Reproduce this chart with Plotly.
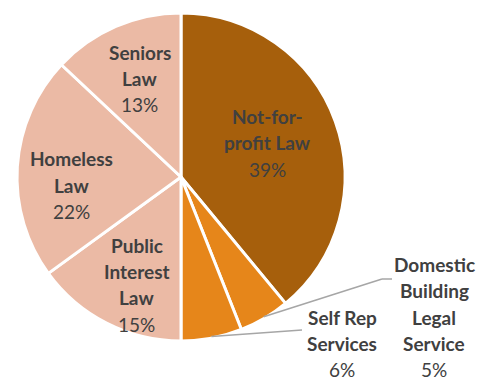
import math
import plotly.graph_objects as go

# Share of funding by program (percent), clockwise from 12 o'clock
programs = ["Not-for-profit Law", "Domestic Building Legal Service", "Self Rep Services",
            "Public Interest Law", "Homeless Law", "Seniors Law"]
shares = [39, 5, 6, 15, 22, 13]
# Lines of each slice label (bold name lines, then the percentage)
label_lines = [["Not-for-", "profit Law"], ["Domestic", "Building", "Legal", "Service"],
               ["Self Rep", "Services"], ["Public", "Interest", "Law"],
               ["Homeless", "Law"], ["Seniors", "Law"]]

colors = ["#A65F0C", "#E6861A", "#E6861A", "#EBBAA5", "#EBBAA5", "#EBBAA5"]

W, H = 479, 383
CX, CY, R = 181, 177, 164          # pie centre and radius in pixels
FONT = "Lato"
TXT = "#404040"
LINE_H = 26.2

# inside-label placement: (radius as fraction of R, angular nudge in degrees);
# None = label placed outside with a leader line
inside_pos = [(0.565, -1.8), None, None, (0.71, -4.7), (0.667, -7.8), (0.65, 0.7)]
# outside label anchors (pixel centre of the text block) and leader elbows
outside = {1: dict(text=(434, 317), elbow=[(382, 279), (392, 279)]),
           2: dict(text=(342, 343.5), elbow=[(302, 330)])}


def px(x, y):
    return x / W, 1 - y / H


fig = go.Figure(go.Pie(
    labels=programs, values=shares, sort=False, direction="clockwise",
    rotation=0, marker=dict(colors=colors, line=dict(color="white", width=3)),
    textinfo="none", hoverinfo="label+percent", showlegend=False,
    domain=dict(x=[(CX - R) / W, (CX + R) / W], y=[1 - (CY + R) / H, 1 - (CY - R) / H]),
))

annotations = []
shapes = []
total = sum(shares)
cum = 0
for i, v in enumerate(shares):
    mid = (cum + v / 2) / total * 2 * math.pi
    cum += v
    pct = f"{round(v / total * 100)}%"
    lines = [(t, True) for t in label_lines[i]] + [(pct, False)]
    if inside_pos[i] is not None:
        frac, nudge = inside_pos[i]
        ang = mid + math.radians(nudge)
        tx = CX + R * frac * math.sin(ang)
        ty = CY - R * frac * math.cos(ang)
    else:
        tx, ty = outside[i]["text"]
        # leader from the slice edge to the label
        sx = CX + R * 0.99 * math.sin(mid)
        sy = CY - R * 0.99 * math.cos(mid)
        pts = [(sx, sy)] + outside[i]["elbow"]
        for (x0, y0), (x1, y1) in zip(pts[:-1], pts[1:]):
            a, b = px(x0, y0)
            c, d = px(x1, y1)
            shapes.append(dict(type="line", xref="paper", yref="paper", x0=a, y0=b, x1=c, y1=d,
                               line=dict(color="#A6A6A6", width=1.5)))
    n = len(lines)
    for k, (t, bold) in enumerate(lines):
        ly = ty + (k - (n - 1) / 2) * LINE_H
        x, y = px(tx, ly)
        annotations.append(dict(
            x=x, y=y, xref="paper", yref="paper", showarrow=False, borderpad=0,
            text=f"<b>{t}</b>" if bold else t, xanchor="center", yanchor="middle",
            font=dict(family=FONT, size=19, color=TXT)))

fig.update_layout(
    width=W, height=H, margin=dict(l=0, r=0, t=0, b=0),
    paper_bgcolor="white", plot_bgcolor="white",
    annotations=annotations, shapes=shapes,
)

fig.write_html("out.html")
